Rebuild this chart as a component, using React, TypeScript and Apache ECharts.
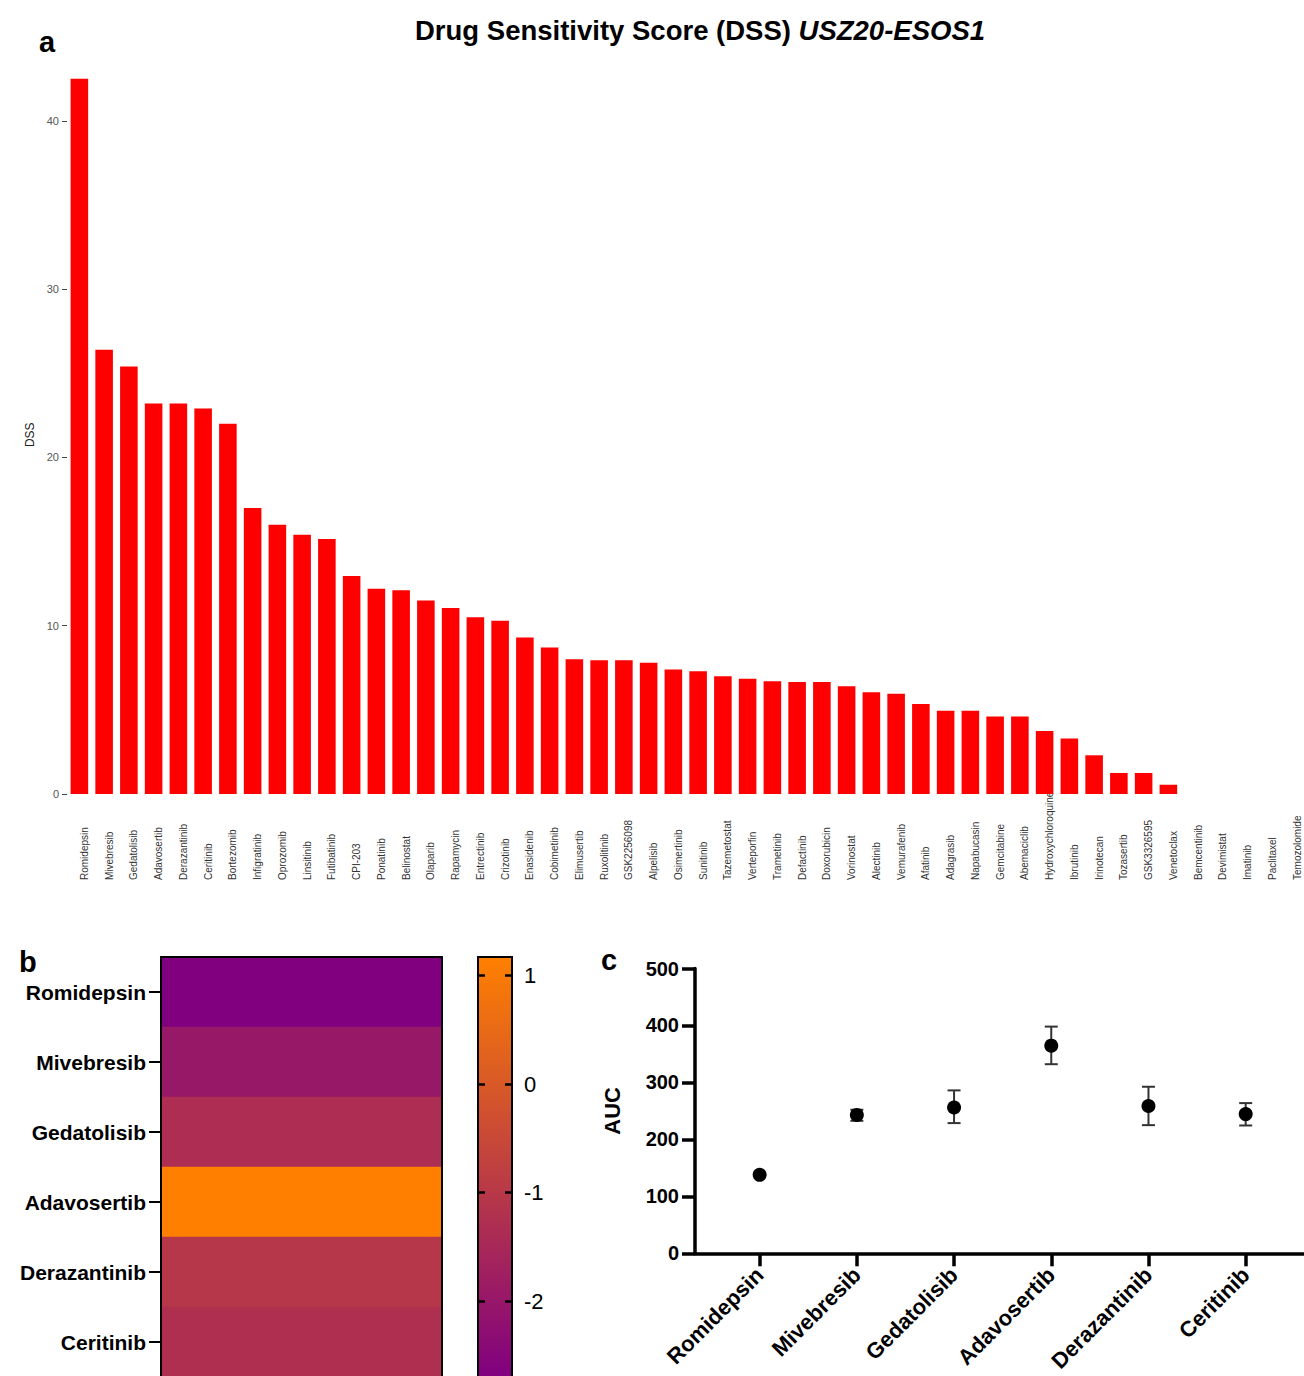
import React, { useEffect, useRef } from 'react';
import * as echarts from 'echarts';

const FONT = '"Liberation Sans", Arial, Helvetica, sans-serif';

const dssDrugs = [
  'Romidepsin', 'Mivebresib', 'Gedatolisib', 'Adavosertib', 'Derazantinib', 'Ceritinib', 'Bortezomib',
  'Infigratinib', 'Oprozomib', 'Linsitinib', 'Futibatinib', 'CPI-203', 'Ponatinib', 'Belinostat',
  'Olaparib', 'Rapamycin', 'Entrectinib', 'Crizotinib', 'Enasidenib', 'Cobimetinib', 'Elimusertib',
  'Ruxolitinib', 'GSK2256098', 'Alpelisib', 'Osimertinib', 'Sunitinib', 'Tazemetostat', 'Verteporfin',
  'Trametinib', 'Defactinib', 'Doxorubicin', 'Vorinostat', 'Alectinib', 'Vemurafenib', 'Afatinib',
  'Adagrasib', 'Napabucasin', 'Gemcitabine', 'Abemaciclib', 'Hydroxychloroquine', 'Ibrutinib',
  'Irinotecan', 'Tozasertib', 'GSK3326595', 'Venetoclax', 'Bemcentinib', 'Devimistat', 'Imatinib',
  'Paclitaxel', 'Temozolomide',
];
const dssValues = [
  42.5, 26.4, 25.4, 23.2, 23.2, 22.9, 22.0,
  17.0, 16.0, 15.4, 15.15, 12.95, 12.2, 12.1,
  11.5, 11.05, 10.5, 10.3, 9.3, 8.7, 8.0,
  7.95, 7.95, 7.8, 7.4, 7.3, 7.0, 6.85,
  6.7, 6.65, 6.65, 6.4, 6.05, 5.95, 5.35,
  4.95, 4.95, 4.6, 4.6, 3.75, 3.3,
  2.3, 1.25, 1.25, 0.55, 0, 0, 0,
  0, 0,
];
const dssTicks = [0, 10, 20, 30, 40];

const heatDrugs = ['Romidepsin', 'Mivebresib', 'Gedatolisib', 'Adavosertib', 'Derazantinib', 'Ceritinib'];
const heatValues = [-2.7, -1.96, -1.33, 1.172, -1.05, -1.27];
const colorRange = [-2.7, 1.172];
const colorTicks = [-2, -1, 0, 1];
const colorStops = ['#800080', '#FF8000'];

const aucDrugs = ['Romidepsin', 'Mivebresib', 'Gedatolisib', 'Adavosertib', 'Derazantinib', 'Ceritinib'];
const aucMean = [137.7, 243, 256, 364.5, 258.5, 244.4];
const aucLow = [137.7, 232.6, 228.6, 332, 225, 224.4];
const aucHigh = [137.7, 252, 286, 398, 292.4, 263.7];
const aucCatTicks = [0, 1, 2, 3, 4, 5];

export default function App() {
  const ref = useRef<HTMLDivElement>(null);
  useEffect(() => {
    if (!ref.current) return;
    const chart = echarts.init(ref.current, null, { renderer: 'svg' });
    const option: any = {
      animation: false,
      backgroundColor: '#fff',
      textStyle: { fontFamily: FONT },
      title: [
        {
          text: '{b|Drug Sensitivity Score (DSS) }{i|USZ20-ESOS1}',
          left: 410,
          top: 11,
          textStyle: {
            rich: {
              b: { fontFamily: FONT, fontWeight: 'bold', fontSize: 27.5, color: '#000' },
              i: { fontFamily: FONT, fontWeight: 'bold', fontStyle: 'italic', fontSize: 27.5, color: '#000' },
            },
          },
        },
        { text: 'a', left: 34, top: 22, textStyle: { fontFamily: FONT, fontSize: 29, fontWeight: 'bold', color: '#000' } },
        { text: 'b', left: 14, top: 942, textStyle: { fontFamily: FONT, fontSize: 29, fontWeight: 'bold', color: '#000' } },
        { text: 'c', left: 596, top: 940, textStyle: { fontFamily: FONT, fontSize: 29, fontWeight: 'bold', color: '#000' } },
      ],
      grid: [
        { left: 67, top: 53.5, width: 1237.5, height: 740.5, outerBoundsMode: 'none', containLabel: false },
        { left: 161, top: 957, width: 281, height: 420, outerBoundsMode: 'none', containLabel: false },
        { left: 478, top: 957, width: 34, height: 420, outerBoundsMode: 'none', containLabel: false },
        { left: 695, top: 968.5, width: 609, height: 284.8, outerBoundsMode: 'none', containLabel: false },
      ],
      xAxis: [
        {
          gridIndex: 0, type: 'category', data: dssDrugs,
          axisLine: { show: false }, axisTick: { show: false },
          axisLabel: {
            rotate: 90, interval: 0, margin: 86, align: 'left', verticalAlign: 'top',
            fontSize: 10, color: '#333', fontFamily: FONT,
          },
        },
        {
          gridIndex: 1, type: 'category', data: [''], position: 'top', z: 5,
          axisLine: { show: true, lineStyle: { color: '#000', width: 2 } },
          axisTick: { show: false }, axisLabel: { show: false },
        },
        {
          gridIndex: 2, type: 'value', min: 0, max: 1, position: 'top', z: 5,
          axisLine: { show: true, onZero: false, lineStyle: { color: '#000', width: 2 } },
          axisTick: { show: false }, axisLabel: { show: false }, splitLine: { show: false },
        },
        {
          gridIndex: 3, type: 'value', min: -0.665, max: 5.6, z: 5,
          axisLine: { show: true, onZero: false, lineStyle: { color: '#000', width: 3.5 } },
          axisTick: { show: true, customValues: aucCatTicks, length: 13, lineStyle: { color: '#000', width: 3.5 } },
          axisLabel: {
            customValues: aucCatTicks, formatter: (v: number) => aucDrugs[Math.round(v)],
            rotate: 45, fontSize: 22, fontWeight: 'bold', color: '#000', margin: 18, fontFamily: FONT,
          },
          splitLine: { show: false },
        },
      ],
      yAxis: [
        {
          gridIndex: 0, type: 'value', min: 0, max: 44,
          axisLine: { show: false },
          axisTick: { show: true, customValues: dssTicks, length: 5, lineStyle: { color: '#444' } },
          axisLabel: { customValues: dssTicks, fontSize: 11, color: '#555', margin: 8, fontFamily: FONT },
          splitLine: { show: false },
          name: 'DSS', nameLocation: 'middle', nameGap: 26,
          nameTextStyle: { fontSize: 12, color: '#222', fontFamily: FONT, padding: [0, 22, 0, 0] },
        },
        {
          gridIndex: 1, type: 'category', data: heatDrugs, inverse: true, z: 5,
          axisLine: { show: true, lineStyle: { color: '#000', width: 2 } },
          axisTick: { show: true, alignWithLabel: true, length: 12, lineStyle: { color: '#000', width: 2 } },
          axisLabel: { fontSize: 21, fontWeight: 'bold', color: '#000', margin: 15, fontFamily: FONT },
        },
        {
          gridIndex: 1, type: 'category', data: heatDrugs, inverse: true, position: 'right', z: 5,
          axisLine: { show: true, lineStyle: { color: '#000', width: 2 } },
          axisTick: { show: false }, axisLabel: { show: false },
        },
        {
          gridIndex: 2, type: 'value', min: colorRange[0], max: colorRange[1], position: 'left', z: 5,
          axisLine: { show: true, onZero: false, lineStyle: { color: '#000', width: 2 } },
          axisTick: { show: true, inside: true, customValues: colorTicks, length: 7, lineStyle: { color: '#000', width: 2.5 } },
          axisLabel: { show: false }, splitLine: { show: false },
        },
        {
          gridIndex: 2, type: 'value', min: colorRange[0], max: colorRange[1], position: 'right', z: 5,
          axisLine: { show: true, onZero: false, lineStyle: { color: '#000', width: 2 } },
          axisTick: { show: true, inside: true, customValues: colorTicks, length: 7, lineStyle: { color: '#000', width: 2.5 } },
          axisLabel: { customValues: colorTicks, fontSize: 22, color: '#000', margin: 12, fontFamily: FONT },
          splitLine: { show: false },
        },
        {
          gridIndex: 3, type: 'value', min: 0, max: 500, interval: 100, z: 5,
          axisLine: { show: true, onZero: false, lineStyle: { color: '#000', width: 3.5 } },
          axisTick: { show: true, length: 13, lineStyle: { color: '#000', width: 3.5 } },
          axisLabel: { fontSize: 20, fontWeight: 'bold', color: '#000', margin: 16, fontFamily: FONT },
          splitLine: { show: false },
          name: 'AUC', nameLocation: 'middle', nameGap: 72,
          nameTextStyle: { fontSize: 22, fontWeight: 'bold', color: '#000', fontFamily: FONT },
        },
      ],
      visualMap: {
        show: false, type: 'continuous', seriesIndex: 1, dimension: 2,
        min: colorRange[0], max: colorRange[1],
        inRange: { color: colorStops },
      },
      series: [
        {
          type: 'bar', xAxisIndex: 0, yAxisIndex: 0, data: dssValues,
          itemStyle: { color: '#FF0000' }, barCategoryGap: '29%',
        },
        {
          type: 'heatmap', xAxisIndex: 1, yAxisIndex: 1,
          data: heatValues.map((v, i) => [0, i, v]),
        },
        {
          type: 'custom', xAxisIndex: 2, yAxisIndex: 3, z: 1,
          data: [[0, colorRange[0], colorRange[1]]],
          encode: { x: 0, y: [1, 2] },
          renderItem: (params: any, api: any) => {
            const p1 = api.coord([0, api.value(2)]);
            const p2 = api.coord([1, api.value(1)]);
            return {
              type: 'rect',
              shape: { x: p1[0], y: p1[1], width: p2[0] - p1[0], height: p2[1] - p1[1] },
              style: {
                fill: new echarts.graphic.LinearGradient(0, 0, 0, 1, [
                  { offset: 0, color: colorStops[1] },
                  { offset: 1, color: colorStops[0] },
                ]),
              },
            };
          },
        },
        {
          type: 'custom', xAxisIndex: 3, yAxisIndex: 5,
          data: aucMean.map((m, i) => [i, aucLow[i], aucHigh[i]]),
          encode: { x: 0, y: [1, 2] },
          renderItem: (params: any, api: any) => {
            const x = api.value(0);
            const lo = api.value(1);
            const hi = api.value(2);
            if (hi - lo < 1e-6) return { type: 'group', children: [] };
            const top = api.coord([x, hi]);
            const bot = api.coord([x, lo]);
            const w = 6.5;
            const style = { stroke: '#333', lineWidth: 2 };
            return {
              type: 'group',
              children: [
                { type: 'line', shape: { x1: top[0], y1: top[1], x2: bot[0], y2: bot[1] }, style },
                { type: 'line', shape: { x1: top[0] - w, y1: top[1], x2: top[0] + w, y2: top[1] }, style },
                { type: 'line', shape: { x1: bot[0] - w, y1: bot[1], x2: bot[0] + w, y2: bot[1] }, style },
              ],
            };
          },
        },
        {
          type: 'scatter', xAxisIndex: 3, yAxisIndex: 5, z: 4,
          data: aucMean.map((m, i) => [i, m]),
          symbol: 'circle', symbolSize: 14, itemStyle: { color: '#000', opacity: 1 },
        },
      ],
    };
    chart.setOption(option);
    return () => chart.dispose();
  }, []);
  return (
    <div
      ref={ref}
      style={{ position: 'fixed', left: 0, top: 0, width: 1304, height: 1376, background: '#fff', overflow: 'hidden' }}
    />
  );
}
